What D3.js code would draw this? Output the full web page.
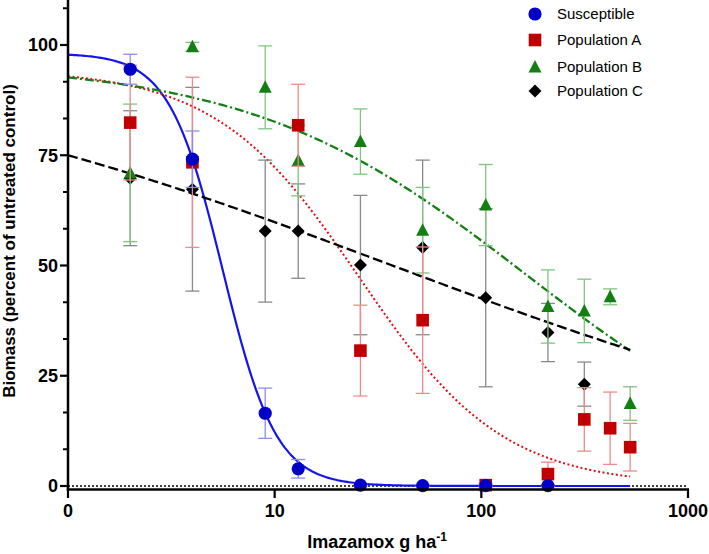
<!DOCTYPE html>
<html><head><meta charset="utf-8">
<script src="https://cdn.jsdelivr.net/npm/d3@7"></script>
<style>body{margin:0;background:#fff}svg{display:block}text{font-family:"Liberation Sans",Arial,sans-serif}</style>
</head><body><svg id="c" width="709" height="554"></svg>
<script>
// ---- data ----
const seriesNames = ["Susceptible","Population A","Population B","Population C"];
const doseS = [2,4,9,13,26,52,105,210];
const valS  = [94.5,74.1,16.5,3.9,0.2,0.1,0.1,0.1];
const errS  = [3.4,6.4,5.7,2.1,0.3,0.2,0.2,0.2];
const doseA = [2,4,13,26,52,105,210,315,420,525];
const valA  = [82.4,73.4,81.8,30.7,37.6,0.2,2.7,15.1,13.1,8.8];
const errA  = [13,19.3,9.3,10.3,16.6,0.5,2.7,7.2,8.2,5.4];
const doseB = [2,4,9,13,26,52,105,210,315,420,525];
const valB  = [71.0,99.6,90.4,73.8,78.1,58.0,63.7,40.7,39.7,42.9,18.7];
const errB  = [15.6,1,9.4,8,7.4,9.7,9.2,8.3,7.2,1.8,3.8];
const doseC = [2,4,9,13,26,52,105,210,315];
const valC  = [69.8,67.3,57.8,57.8,50.1,54.1,42.7,34.8,23.1];
const errC  = [15.3,23.1,16.1,10.7,15.8,19.8,20.2,6.6,5.0];
// fitted log-logistic curves: upper, ED50, slope
const fitUpper = [98.1,94.5,96,100];
const fitED50  = [5.6,25.7,164,37.1];
const fitSlope = [3.36,1.25,0.65,0.304];
const xTicks = [1,10,100,1000];
const xTickLabels = ["0","10","100","1000"];
const yTicks = [0,25,50,75,100];

// ---- layout ----
const svg = d3.select("#c");
const x = d3.scaleLog().domain([1,1000]).range([68,688]);
const y = d3.scaleLinear().domain([0,100]).range([486,45]);
const colors = ["#0000c8","#c00000","#137f13","#000000"];
const lineColors = ["#1414f0","#e01010","#137f13","#000000"];
const errColors = ["#8c8cf0","#f08a8a","#80c480","#8a8a8a"];

// zero dotted line
svg.append("line").attr("x1",x(1)).attr("x2",x(1000)).attr("y1",y(0)).attr("y2",y(0))
  .attr("stroke","#000").attr("stroke-width",1.5).attr("stroke-dasharray","2,2");

// curves
const dashes = [null,"2,2.5","9,3,2,3","10,4"];
const widths = [2.2,2,2.3,2.3];
for(let i=0;i<4;i++){
  const pts = d3.range(0,2.7201,0.01).map(l=>{const d=Math.pow(10,l);return [d, fitUpper[i]/(1+Math.pow(d/fitED50[i],fitSlope[i]))];});
  svg.append("path").attr("d",d3.line().x(p=>x(p[0])).y(p=>y(p[1]))(pts))
    .attr("fill","none").attr("stroke",lineColors[i]).attr("stroke-width",widths[i])
    .attr("stroke-dasharray",dashes[i]);
}

function marker(g,type,cx,cy,color){
  if(type===0) g.append("circle").attr("cx",cx).attr("cy",cy).attr("r",6.6).attr("fill",color);
  else if(type===1) g.append("rect").attr("x",cx-6.3).attr("y",cy-6.3).attr("width",12.6).attr("height",12.6).attr("fill",color);
  else if(type===2) g.append("path").attr("d",`M${cx},${cy-7}L${cx+6.5},${cy+5.5}L${cx-6.5},${cy+5.5}Z`).attr("fill",color);
  else g.append("path").attr("d",`M${cx},${cy-6.5}L${cx+6.5},${cy}L${cx},${cy+6.5}L${cx-6.5},${cy}Z`).attr("fill",color);
}

const sets = [[doseS,valS,errS],[doseA,valA,errA],[doseB,valB,errB],[doseC,valC,errC]];
// draw C, B, A, S (S on top)
for(const i of [3,2,1,0]){
  const [ds,vs,es] = sets[i];
  const g = svg.append("g");
  ds.forEach((d,j)=>{
    const cx = x(d), top=y(vs[j]+es[j]), bot=y(Math.max(vs[j]-es[j],-0.5));
    g.append("line").attr("x1",cx).attr("x2",cx).attr("y1",top).attr("y2",bot).attr("stroke",errColors[i]).attr("stroke-width",1.3);
    [top,bot].forEach(yy=>g.append("line").attr("x1",cx-7).attr("x2",cx+7).attr("y1",yy).attr("y2",yy).attr("stroke",errColors[i]).attr("stroke-width",1.3));
  });
  ds.forEach((d,j)=>marker(g,i,x(d),y(vs[j]),colors[i]));
}

// axes
const ax = svg.append("g");
ax.append("line").attr("x1",68).attr("x2",68).attr("y1",0).attr("y2",490.5).attr("stroke","#000").attr("stroke-width",2.5);
ax.append("line").attr("x1",66.8).attr("x2",x(1000)+1).attr("y1",489.5).attr("y2",489.5).attr("stroke","#000").attr("stroke-width",2.5);
yTicks.forEach(t=>{
  ax.append("line").attr("x1",60).attr("x2",68).attr("y1",y(t)).attr("y2",y(t)).attr("stroke","#000").attr("stroke-width",2.2);
  ax.append("text").attr("x",58).attr("y",y(t)).attr("dy","0.36em").attr("text-anchor","end")
    .attr("font-size",18).attr("font-weight","bold").text(t);
});
d3.range(0,110,25/3).forEach(t=>{
  if(Math.abs(t/25-Math.round(t/25))<0.01) return;
  ax.append("line").attr("x1",63).attr("x2",68).attr("y1",y(t)).attr("y2",y(t)).attr("stroke","#000").attr("stroke-width",2);
});
xTicks.forEach((t,k)=>{
  ax.append("line").attr("x1",x(t)).attr("x2",x(t)).attr("y1",489).attr("y2",498).attr("stroke","#000").attr("stroke-width",2.2);
  ax.append("text").attr("x",x(t)).attr("y",517).attr("text-anchor","middle")
    .attr("font-size",18).attr("font-weight","bold").text(xTickLabels[k]);
});
const xl = svg.append("text").attr("x",377).attr("y",548).attr("text-anchor","middle").attr("font-size",18).attr("font-weight","bold");
xl.append("tspan").text("Imazamox g ha");
xl.append("tspan").attr("dy",-7).attr("font-size",12).text("-1");
svg.append("text").attr("transform","translate(15,241) rotate(-90)").attr("text-anchor","middle")
  .attr("font-size",17).attr("font-weight","bold").text("Biomass (percent of untreated control)");

// legend
const legY = [14,40,67,91];
seriesNames.forEach((n,i)=>{
  marker(svg,i,535,legY[i],colors[i]);
  svg.append("text").attr("x",557).attr("y",legY[i]).attr("dy","0.36em").attr("font-size",15).text(n);
});
</script></body></html>
